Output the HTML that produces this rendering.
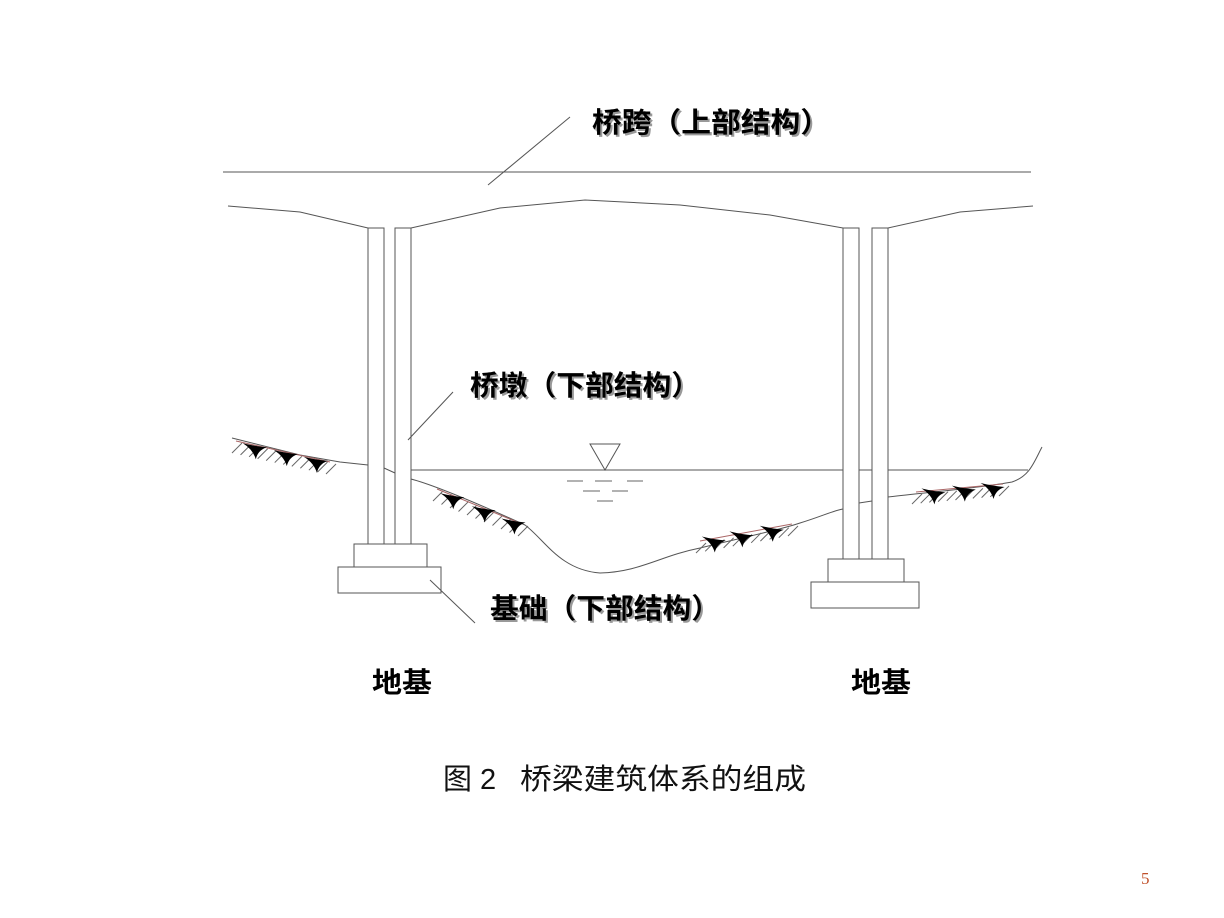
<!DOCTYPE html>
<html><head><meta charset="utf-8"><style>
html,body{margin:0;padding:0;background:#fff;}
svg{display:block;}
.lbl{font-family:"Liberation Sans","Noto Sans CJK SC",sans-serif;font-weight:bold;font-size:28px;fill:#000;}
.sh{font-family:"Liberation Sans","Noto Sans CJK SC",sans-serif;font-weight:bold;font-size:28px;fill:#999;}
</style></head><body>
<svg id="s" width="1224" height="918" viewBox="0 0 1224 918" xmlns="http://www.w3.org/2000/svg">
<g fill="none" stroke="#555" stroke-width="1">
<line x1="223" y1="172" x2="1031" y2="172"/>
<polyline points="228,206 300,212 368,228"/>
<polyline points="411,228 500,208 585,200 680,205 770,215 843,228"/>
<polyline points="888,228 960,212 1033,206"/>
<rect x="368" y="228" width="16" height="316"/>
<rect x="395" y="228" width="16" height="316"/>
<rect x="354" y="544" width="73" height="23"/>
<rect x="338" y="567" width="103" height="26"/>
<rect x="843" y="228" width="16" height="331"/>
<rect x="872" y="228" width="16" height="331"/>
<rect x="828" y="559" width="76" height="23"/>
<rect x="811" y="582" width="108" height="26"/>
<line x1="411" y1="470" x2="843" y2="470"/>
<line x1="859" y1="470" x2="872" y2="470"/>
<line x1="888" y1="470" x2="1028" y2="470"/>
<polygon points="590,444 620,444 605,470"/>
<g stroke="#666">
<line x1="567" y1="481" x2="583" y2="481"/><line x1="595" y1="481" x2="612" y2="481"/><line x1="627" y1="481" x2="643" y2="481"/>
<line x1="583" y1="491" x2="600" y2="491"/><line x1="612" y1="491" x2="628" y2="491"/>
<line x1="597" y1="501" x2="613" y2="501"/>
</g>
<polyline points="232,438 300,455 340,462 368,465"/>
<polyline points="384,468 395,473"/>
<path d="M411,479 C430,484 470,500 525,525 C545,540 560,570 600,573 C640,572 660,556 700,548 C740,538 780,530 800,523 C820,517 835,510 843,509"/>
<polyline points="859,503 872,501"/>
<path d="M888,497 C930,492 980,488 1012,482 C1030,476 1034,462 1042,447"/>
<line x1="570" y1="117" x2="488" y2="185"/>
<line x1="453" y1="392" x2="408" y2="440"/>
<line x1="430" y1="580" x2="475" y2="623"/>
</g>
<g id="hatch"></g>
<text class="sh" x="594" y="134" textLength="238" lengthAdjust="spacingAndGlyphs">桥跨（上部结构）</text>
<text class="lbl" x="592" y="132" textLength="238" lengthAdjust="spacingAndGlyphs">桥跨（上部结构）</text>
<text class="sh" x="472" y="397" textLength="230" lengthAdjust="spacingAndGlyphs">桥墩（下部结构）</text>
<text class="lbl" x="470" y="395" textLength="230" lengthAdjust="spacingAndGlyphs">桥墩（下部结构）</text>
<text class="sh" x="492" y="620" textLength="230" lengthAdjust="spacingAndGlyphs">基础（下部结构）</text>
<text class="lbl" x="490" y="618" textLength="230" lengthAdjust="spacingAndGlyphs">基础（下部结构）</text>
<text class="lbl" x="372" y="692" textLength="60" lengthAdjust="spacingAndGlyphs">地基</text>
<text class="lbl" x="851" y="692" textLength="60" lengthAdjust="spacingAndGlyphs">地基</text>
<g style="font-family:'Liberation Sans','Noto Sans CJK SC',sans-serif;font-size:29px;fill:#111">
<text x="443" y="789">图 2</text>
<text x="520" y="789" textLength="286" lengthAdjust="spacingAndGlyphs">桥梁建筑体系的组成</text>
</g>
<text x="1141" y="884" style="font-family:'Liberation Serif',serif;font-size:17px;fill:#c0502a">5</text>
</svg>
<script>
var g=document.getElementById('hatch'),ns='http://www.w3.org/2000/svg';
function seg(x1,y1,x2,y2,tris){
  var n=Math.round(Math.hypot(x2-x1,y2-y1)/9);
  for(var i=0;i<=n;i++){var t=i/n,x=x1+(x2-x1)*t,y=y1+(y2-y1)*t;
    var l=document.createElementNS(ns,'line');
    l.setAttribute('x1',x-4);l.setAttribute('y1',y+12);l.setAttribute('x2',x+6);l.setAttribute('y2',y+2);
    l.setAttribute('stroke','#666');l.setAttribute('stroke-width','1');g.appendChild(l);}
  var r=document.createElementNS(ns,'line');
  r.setAttribute('x1',x1);r.setAttribute('y1',y1);r.setAttribute('x2',x2);r.setAttribute('y2',y2);
  r.setAttribute('stroke','#a66');g.appendChild(r);
  tris.forEach(function(t){var x=x1+(x2-x1)*t,y=y1+(y2-y1)*t;
    var p=document.createElementNS(ns,'path');
    p.setAttribute('d','M'+(x-12)+','+(y-2)+' Q'+x+','+(y+1)+' '+(x+12)+','+(y+2)+' Q'+(x+3)+','+(y+5)+' '+(x+1)+','+(y+14)+' Q'+(x-2)+','+(y+4)+' '+(x-12)+','+(y-2)+'Z');
    p.setAttribute('fill','#000');g.appendChild(p);});
}
seg(236,441,330,462,[0.2,0.53,0.85]);
seg(437,489,522,524,[0.18,0.55,0.9]);
seg(700,541,792,524,[0.15,0.45,0.78]);
seg(916,492,1003,484,[0.2,0.55,0.88]);
</script>
</body></html>
